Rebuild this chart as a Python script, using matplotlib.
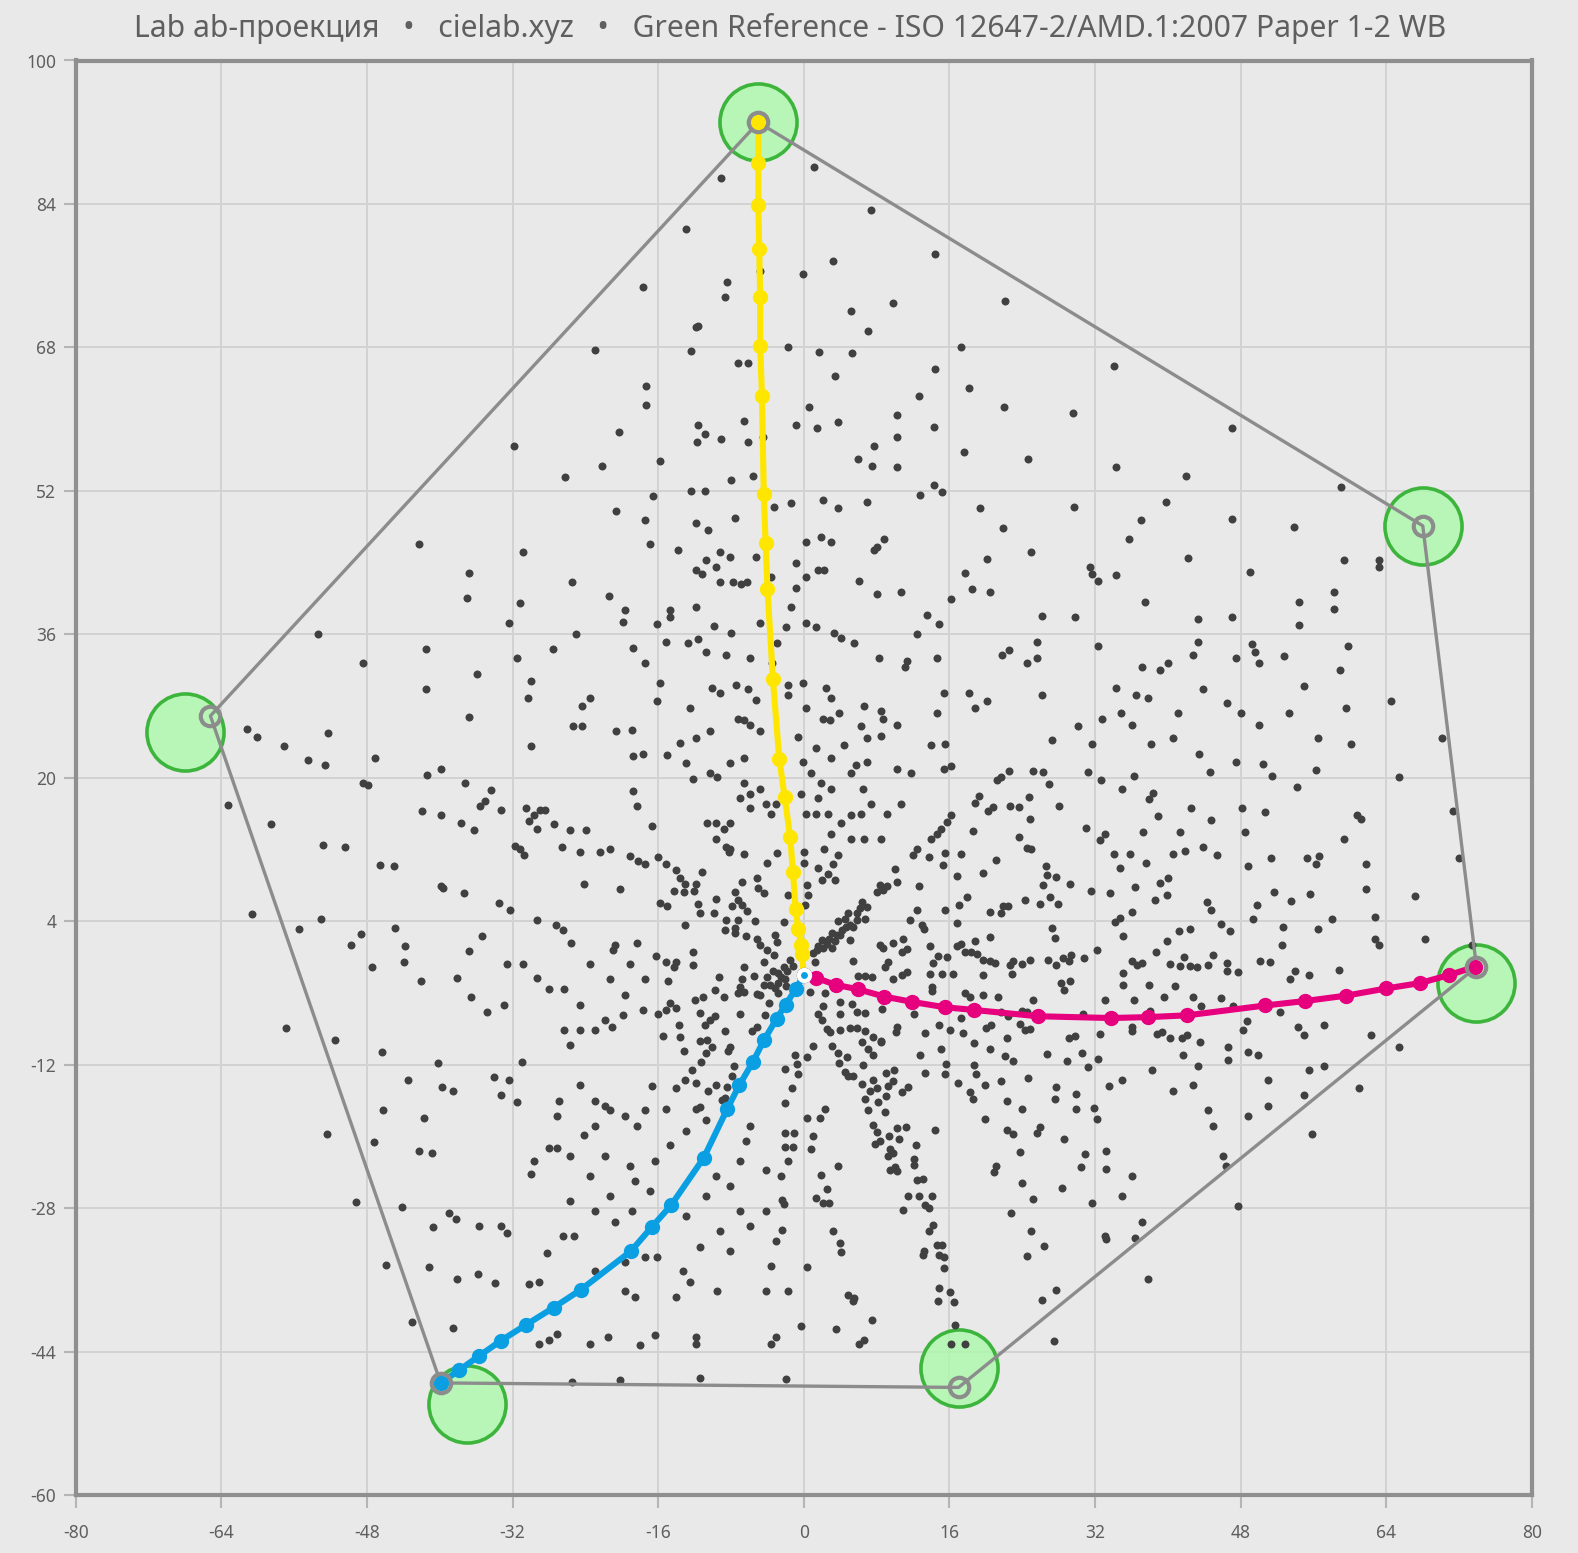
import matplotlib
matplotlib.use("Agg")
from matplotlib import pyplot as plt

title = "Lab ab-проекция   •   cielab.xyz   •   Green Reference - ISO 12647-2/AMD.1:2007 Paper 1-2 WB"
x_ticks = [-80, -64, -48, -32, -16, 0, 16, 32, 48, 64, 80]
y_ticks = [-60, -44, -28, -12, 4, 20, 36, 52, 68, 84, 100]

# gamut corners, measured and reference
hull_a = [-5.0, 68.0, 73.9, 17.0, -39.9, -65.2, -5.0]
hull_b = [93.1, 48.1, -1.1, -48.0, -47.5, 26.9, 93.1]
ref_a = [-5.0, 68.0, 73.9, 17.0, -37.0, -68.0]
ref_b = [93.1, 48.1, -2.9, -45.8, -49.9, 25.1]

yellow_a = [0, -0.2, -0.3, -0.6, -0.9, -1.2, -1.5, -2.1, -2.7, -3.4, -4.0, -4.2, -4.4, -4.6, -4.8, -4.8, -4.9, -5.0, -5.0, -5.0]
yellow_b = [-2, 0.3, 1.4, 3.1, 5.4, 9.5, 13.4, 17.8, 22.1, 31.0, 41.1, 46.2, 51.6, 62.6, 68.2, 73.6, 79.0, 83.9, 88.6, 93.1]
magenta_a = [0, 1.3, 3.5, 6.0, 8.8, 11.9, 15.5, 18.7, 25.7, 33.7, 37.8, 42.1, 50.7, 55.1, 59.6, 64.0, 67.7, 70.9, 73.7]
magenta_b = [-2, -2.3, -3.1, -3.6, -4.4, -5.0, -5.6, -5.9, -6.6, -6.8, -6.7, -6.5, -5.4, -4.9, -4.3, -3.5, -2.9, -2.0, -1.1]
cyan_a = [0, -0.9, -2.0, -3.0, -4.4, -5.6, -7.1, -8.4, -11.0, -14.6, -16.7, -19.0, -24.5, -27.5, -30.5, -33.3, -35.7, -37.9, -39.9]
cyan_b = [-2, -3.6, -5.3, -6.9, -9.3, -11.7, -14.3, -16.9, -22.4, -27.7, -30.1, -32.8, -37.1, -39.1, -41.0, -42.8, -44.5, -46.1, -47.5]

# patches, (a, b)
patches_top = [
    (-9.1,86.9),(1.1,88.1),(7.4,83.3),(-12.9,81.2),(-17.7,74.7),(14.4,78.4),(3.2,77.6),(-0.1,76.2),(-4.8,76.5),(-8.4,75.3),
    (-8.7,73.6),(22.1,73.2),(9.8,72.9),(5.2,72.1),(7.1,69.8),(-11.9,70.3),(-11.6,70.4),(-12.4,67.6),(1.7,67.5),(5.3,67.4),
    (17.3,68),(-1.7,68),(-7.2,66.3),(-6.1,66.3),(3.4,64.8),(34.1,65.9),(18.1,63.5),(-17.3,63.7),(-17.3,61.6),(0.6,61.4),
    (22,61.4),(14.4,65.6),(10.2,60.5),(12.7,62.6),(14.3,59.1),(29.6,60.7),(47,59),(-22.9,67.7),(-20.3,58.6),(-31.8,57),
    (-22.2,54.8),(-26.2,53.5),(-15.8,55.3),(-11.6,59.4),(-10.9,58.3),(-11.7,57.5),(-9.1,57.8),(-6.6,59.8),(-6.1,57.5),(-4.5,58),
    (-0.9,59.3),(1.4,59),(3.8,59.7),(7.7,57),(5.9,55.5),(7.5,54.8),(10.2,54.7),(10.2,58),(17.6,56.3),(24.6,55.5),
    (34.3,54.7),(-5.6,53.7),(-8,53.2),(-12.4,52),(-10.9,52),(-16.6,51.4),(-20.6,49.7),(-17.5,48.8),(-11.8,48.4),(-10.5,47.6),
    (-7.6,49),(-3.3,50.2),(-1.4,50.6),(2.1,51),(3.8,50.1),(6.9,50.8),(12.8,51.5),(14.3,52.6),(15.2,51.9),(19.3,50.1),
    (21.9,47.9),(20.1,44.4),(8.8,46.6),(42,53.7),(59,52.4),(47,48.9),(39.8,50.8),(53.9,48),(37,48.7),(35.7,46.6),(29.7,50.2),(25,45.2),
]
patches_upper = [
    (42.2,44.5),(49,42.9),(31.4,43.5),(31.7,42.7),(32.3,42),(34.3,42.6),(37.5,39.6),(54.4,39.6),(58.2,40.7),(59.3,44.3),
    (63.2,44.3),(63.2,43.5),(58.2,38.8),(54.4,37),(47,37.9),(43.3,37.7),(26.2,38),(29.8,37.9),(25.6,35.1),(32.3,34.7),
    (43.3,35.1),(42.8,33.7),(49.2,34.9),(49.6,34),(52.7,33.6),(47.5,33.4),(50,32.8),(40,32.8),(39.1,32),(37.2,32.3),
    (34.3,30),(36.5,29.2),(37.8,28.9),(24.5,32.8),(25.6,33.4),(21.8,33.7),(22.5,34.3),(14.6,33.4),(11.3,33),(11.1,32.3),
    (8.3,33.4),(12.4,36),(13.5,38.2),(14.9,37.1),(16.2,39.9),(20.4,40.7),(18.5,41.1),(17.7,42.8),(8,40.5),(10.7,40.7),
    (5.5,35),(4.1,35.6),(3.3,36.2),(1.3,36.8),(0.2,37.3),(-1.4,39),(6.1,41.9),(2.2,43.2),(1.5,43.2),(0.2,42.4),
    (-0.9,41.2),(8,45.7),(7.7,45.4),(3,46.3),(1.9,46.9),(0.2,46.3),(-0.9,44),(15.4,29.5),(18.1,29.5),(18.8,27.8),
    (20.1,28.6),(26.2,29.2),(14.6,27.2),(14,23.6),(15.5,23.8),(15.4,21),(16.2,21.3),(-9.2,41.8),(-7.8,41.8),(-6.9,41.6),
    (-6.3,41.8),(-10.8,44.3),(-9.7,43.5),(-11.9,43.2),(-11.2,42.7),(-8.1,44.6),(-9.2,45.2),(-5.3,44.6),(-13.8,45.4),(-16.9,46.1),
    (-3.6,42.4),(-3,35),(-2,36.8),(-4.8,37.3),(-15.2,35.1),(-11.9,39),(-14.7,38.7),
    (-42.3,46.1),(-36.8,42.8),(-37,40),(-30.9,45.2),(-31.2,39.5),(-32.4,37.3),(-31.5,33.4),(-53.4,36),(-48.4,32.8),(-41.5,34.4),
    (-41.5,29.9),(-35.9,31.6),(-36.8,26.8),(-30,30.8),(-30.3,28.9),(-30,23.5),(-27.6,34.4),(-25,36),(-25.5,41.8),(-21.4,40.3),
    (-19.7,38.7),(-19.9,37.4),(-16.1,37.1),(-14.7,37.9),(-18.8,34.5),(-17.5,32.8),(-15.8,30.6),(-16.1,28.6),(-23.5,28.9),(-24.4,28),
    (-25.4,25.8),(-24.4,25.8),(-20.6,25.2),(-18.9,25.3),(-17.7,22.7),(-18.8,22.4),(-15,22.5),(-13.6,23.9),(-11.9,24.4),(-10.3,25.2),
    (-12.5,27.8),(-10.1,30),(-9.2,29.5),(-12.7,35),(-11.6,35.5),(-9.9,36.9),(-8,36.2),(-10.8,34),(-8.6,33.7),(-5.9,33.4),
    (-7.5,30.4),(-6.1,29.9),(-5.3,28.7),(-7.2,26.5),(-6.6,26.4),(-5.9,25.9),(-4.8,25.2),(-3.5,32.8),(-1.7,30.4),(-0.1,30.6),
    (-1.7,29.2),(2.4,30),(3,28.9),(2.1,26.6),(2.9,26.4),(0.2,27.8),(3.9,27.2),(6.6,28),(8.5,27.4),(8.7,26.5),
    (10.2,25.9),(6.3,25.8),(4.4,23.6),(3,22.2),(1.3,23.3),(-0.6,24.5),(-0.1,21.8),(6.9,24.4),(8.5,24.7),
]
patches_west = [
    (-61.2,25.4),(-60.1,24.6),(-57.1,23.5),(-54.5,22),(-52.6,21.4),(-52.3,25),(-47.1,22.2),(-48.4,19.4),(-47.9,19.2),(-39.9,21),
    (-41.4,20.3),(-37.2,19.4),(-41.9,16.3),(-39.9,15.8),(-37.7,14.9),(-36.2,14.2),(-63.3,17),(-58.5,14.8),(-52.8,12.5),(-50.4,12.3),
    (-46.6,10.3),(-45,10.2),(-60.6,4.8),(-55.5,3.1),(-53,4.2),(-49.8,1.4),(-48.7,2.6),(-44.9,3.2),(-43.8,1.2),(-43.9,-0.5),
    (-47.4,-1.1),(-42.1,-2.7),(-56.9,-7.9),(-51.5,-9.3),(-46.4,-10.6),(-43.5,-13.7),(-40.2,-11.8),(-39.8,-14.5),(-38.6,-14.9),(-46.2,-17.1),
    (-41.7,-17.9),(-52.4,-19.7),(-47.2,-20.6),(-42.3,-21.6),(-40.9,-21.8),(-49.2,-27.3),(-44.2,-27.9),(-40.7,-30.1),(-39,-28.6),(-38.2,-29.2),
    (-45.9,-34.3),(-41.2,-34.6),(-38.1,-35.9),(-35.8,-35.4),(-33.9,-36.4),(-43.1,-40.7),(-38.5,-41.4),
    (-34.4,18.6),(-35,17.4),(-35.6,16.8),(-33.3,16.4),(-30.5,16.6),(-29.6,15.9),(-29,16.4),(-28.4,16.4),(-30.2,15.2),(-29.3,14.3),
    (-27.4,14.8),(-25.7,14.2),(-23.9,14.2),(-31.7,12.4),(-31.2,12),(-30.7,11.4),(-26.6,12.3),(-24.6,11.7),(-22.4,11.7),(-21.3,12),
    (-39.9,7.9),(-39.6,7.7),(-37.3,7.1),(-33.5,6),(-32.3,5.3),(-29.3,4.1),(-27.2,3.6),(-26.5,3),(-25.6,1.6),(-35.4,2.3),
    (-36.8,0.7),(-38.1,-2.3),(-36.6,-4.5),(-34.8,-6.1),(-32.6,-0.8),(-30.9,-0.8),(-29.3,-2.3),(-32.9,-5.3),(-28,-3.6),(-26.3,-3.6),
    (-24.6,-5.3),(-23.5,-0.8),(-20.8,1.4),(-21,0.8),(-18.3,1.6),(-19.1,-0.8),(-17.5,-2.5),(-19.7,-4.2),
    (-21.3,-2.5),(-21.9,-7),(-19.9,-6.5),(-17.7,-5.9),(-26.3,-8.1),
    (-24.6,-8.1),(-23,-8.1),(-21.1,-7.8),(-25.7,-9.8),(-31,-11.7),
    (-18.8,18.5),(-18.3,16.8),(-16.7,14.6),(-19.1,11.3),(-18.2,10.7),(-17.5,10.4),(-20.2,7.6),(-24.1,8.1),
]
patches_centre = [
    (-13,21.6),(-12.2,19.9),(-10.3,20.5),(-9.5,20.1),(-8.1,21.6),(-6.6,22.2),(-10.6,14.9),(-9.7,14.9),(-8.8,14.3),(-8.1,14.9),
    (-9.7,13.2),(-8.6,12.3),(-8.1,12.1),(-7,17.7),(-5.9,18.2),(-4.8,18.8),(-4.2,17.1),(-5.9,16.6),(-6.6,19.4),(-3.1,17.1),
    (-3.6,16),(-0.3,18.2),(0.8,20.5),(1.9,19.4),(3,18.8),(1.5,17.7),(0.2,16),(1.3,16),(2.7,16),(4.1,14.9),
    (5.2,15.8),(6.3,16),(3,13.7),(2.2,12.1),(5.2,13.2),(6.6,13.2),(8.5,13.2),(7.4,17.1),(6.5,18.8),(5.2,20.5),
    (5.7,21.4),(6.9,21.8),(10.2,21),(11.8,20.5),(10.7,17.1),(9.1,16),
    (12.4,12.1),(14,13.2),(14.6,13.7),(15.1,14.3),(15.7,15.1),(16.2,15.8),
]
patches_south = [
    (-5.9,-18.8),(-6.4,-20.5),(-7,-22.7),(-4.2,-23.8),(-2.5,-24.4),
    (-3.1,-31.7),(-3.6,-34.5),(-4.2,-37.3),
    (-0.3,-41.2),(-3.1,-42.4),(-3.6,-43.2),(6.6,-42.7),(6.1,-43.2),(-2,-47.1),(-11.4,-47),(-20.2,-47.2),(-25.5,-47.4),(-11.9,-42.4),
    (-11.9,-43.2),(-16.4,-42.1),(-18,-43.3),(-21.5,-42.4),(-23.5,-43.2),(-27.1,-42),(-28,-42.7),(-29.1,-43.2),
    (16.6,-41),(16.2,-43.2),(17.7,-43.2),(3.5,-41.5),(7.5,-40.5),
    (-21.9,-16.6),(-23,-16),(-24.6,-14.3),(-26.9,-16),(-27.1,-17.7),(-31.5,-16.2),(-33.3,-15.4),(-34,-13.4),(-32.4,-13.7),(-28,-21.3),
    (-27.1,-21.3),(-29.6,-22.7),(-30,-24.2),(-25.7,-22.2),(-24.1,-19.9),(-23,-18.8),(-21.3,-17.1),(-19.7,-17.7),(-18.3,-18.8),(-17.5,-17.1),
    (-15.2,-17),(-11.9,-17),(-10.8,-18.2),(-13,-19.4),(-14.7,-21),(-16.4,-22.7),(-18.6,-25),(-16.9,-26.1),(-19.1,-23.3),(-21.9,-22.2),
    (-23.5,-24.4),(-25.7,-27.2),(-23,-28.3),(-21.3,-26.7),(-20.8,-29.5),(-18.9,-28.3),(-25.2,-31.1),(-26.5,-31.1),(-28.2,-33),(-33.3,-30),
    (-32.6,-30.8),(-35.7,-30),(-30.2,-36.5),(-29.1,-36.2),(-23,-35),(-19.7,-34),(-17.5,-33.4),(-16.1,-33.4),(-13.3,-35),(-12.5,-36.2),
    (-14.1,-37.9),(-18.6,-37.9),(-19.7,-37.3),(-9.5,-37.3),(-13,-28.9),(-10.8,-26.7),(-9.7,-24.4),(-8.1,-25.5),(-7,-28.3),(-5.9,-30),
    (-9.2,-30.6),(-8.1,-32.8),(-11.4,-32.3),(-4.2,-28.3),
]
patches_east = [
    (27.3,24.2),(30.1,25.8),(31.7,23.8),(32.8,26.6),(34.8,27.2),(36.1,25.9),(38.1,23.8),(40.6,24.4),(43.4,22.7),(41.1,27.2),
    (43.9,29.9),(46.5,28.3),(48,27.2),(50,25.9),(50.5,21.5),(47.5,21.8),(53.3,27.2),(54.9,30.2),(58.9,32),(59.8,34.7),
    (56.5,24.4),(56.3,20.9),(60.1,23.8),(59.6,27.8),(64.5,28.6),(65.4,20.1),(70.1,24.4),(71.3,16.3),(72,11.1),(67.2,6.8),
    (68.2,2),(73.4,1.4),(60.8,15.8),(61.2,15.4),(59.3,13.2),(61.8,10.4),(61.8,7.6),(62.7,4.5),(62.7,2),(63.2,1.4),
    (56.3,10.4),(56.6,11.3),(55.3,11),(55.6,7),(58,4.2),(56.5,3.1),(55.5,-2),(58.8,-1.4),
    (55.8,-19.7),(54.9,-15.4),(61,-14.6),(57.1,-12.1),(55.5,-12.6),(65.4,-10),(62.3,-8.7),(57.1,-7.6),(54.9,-8.7),
    (48.8,-17.7),(51,-16.6),(46.1,-22.2),(46.4,-23.3),(47.7,-27.8),(44.4,-17.1),(45,-18.8),(40.6,-14.9),(42.8,-14.3),(43.3,-12.1),
    (41.7,-10.9),(38.3,-12.6),(35,-13.7),(51,-13.7),(49.9,-10.9),(48.8,-10.6),(46.6,-11.5),
    (35,-26.7),(36.1,-24.4),(37.2,-29.5),(36.4,-31.3),(33.1,-31.1),(37.8,-35.9),(27.5,-42.8),
]
# denser crop around the white point
patches_core = [
    (-16,11.2),(-15.1,10.4),(-14,9.7),(-13.6,8.8),(-13.1,8.2),(-11.8,8.2),(-12.1,7.4),(-13.2,7.3),(-14.3,7.4),(-11.2,9.5),
    (-15.8,6),(-15,5.7),(-11.6,5.9),(-11.4,4.9),(-9.9,4.9),(-9.6,6.5),(-7.6,7.3),(-7.2,6.4),(-6.8,5.8),(-6.3,5.1),
    (-7.9,5.7),(-6.8,8.4),(-5.2,8.8),(-5,7.7),(-4.4,7.1),(-8.5,4.1),(-7.2,4.1),(-7.6,3.2),(-8.7,3),(-7.6,2.7),
    (-6.4,2.4),(-5.4,4),(-13.1,3.6),(-5.2,2),(-4.8,1.4),(-4.1,0.8),(-3.3,0.2),(-3.2,2.5),(-3,1.7),(-4.4,-0.5),
    (-2.2,3.9),(-1.7,6.9),(0.3,8),(0.5,6.9),(0.1,5.8),(-4.1,10.5),(-8.2,11.7),(-6.6,11.5),(-3,11.6),(0,11.7),
    (0,10.5),(1.6,9.9),(3.2,10.4),(3.8,11.4),(2.7,9.3),(2,8.6),(3.4,8.6),
    (1.05,0.4),(1.4,0.8),(2,1.9),(2.5,1.5),(3.1,2.7),(3.8,4),(4.2,3),(4.9,4.9),(5.8,4.9),(6.4,6.1),
    (6.9,5.6),(6.7,4.3),(5.8,4.1),(5.1,3.6),(3.6,2.5),(3.1,1),(2.1,1),(1.2,-0.5),(5.1,1.9),
    (1.6,1.2),(2.8,2),(3.4,1.8),(4.5,4.2),(5.4,3.4),(6.2,5.5),(4,2.5),(4.6,3.3),
    (8.4,8),(8,7.3),(8.7,7.5),(9.1,7.9),(10,9.8),(10.2,8.4),(12.6,7.9),(12.4,5.3),(15.5,5.2),(11.7,4.1),
    (13,3.6),(13.2,3.1),(8.4,1.4),(8.7,1),(9.8,1.6),(10.9,2),(11.3,0.9),(10.8,0.6),(9.3,-0.5),(8.9,-1.1),
    (11.3,-1.7),(10.8,-2),(9.8,-2.5),(5.4,-0.4),(6,-2.1),(6.7,-2.1),(7.5,-2.2),(13.9,1.2),(14.2,-0.7),(14.7,0.1),
    (15.7,0),(13.9,-1.9),(15.2,-1.9),(16.4,-1.9),(14.1,-3.3),(14.1,-3.8),(16.8,1.2),(17.3,1.5),(17.7,0.6),(17.9,6.7),
    (16.8,9),(15.3,10.3),(12,11.4),(13.7,11.2),(15.5,11.6),(17.3,11.5),(17,5.8),(16.8,3.8),
    (-16.2,0.1),(-15.2,-0.6),(-14.3,-1.1),(-14,-0.5),(-12.2,0.6),(-12.2,-0.9),(-14.9,-2.7),(-9.3,-2.2),(-6.6,-1.1),(-6.8,-2.4),
    (-5.5,-2.1),(-4.4,-3.1),(-3.7,-3.1),(-2.8,-1.8),(-2.2,-1.1),(-1.5,-0.3),(-2.1,-2.4),(-2.8,-2.9),(-7,-3.3),(-6.6,-3.9),
    (-7.2,-4),(-5.2,-4.1),(-4.8,-4.2),(-2.8,-4),(-9.8,-3.7),(-8.8,-4.4),(-11.1,-4.4),(-12,-4.8),(-14.7,-5.1),(-15.1,-5.9),
    (-16,-6.3),(-14,-5.7),(-11.4,-6.2),(-7,-6.3),(-9.8,-6.6),(-10.3,-7),(-10.9,-7.6),(-13.7,-7.6),(-13.6,-8.9),(-15.5,-8.8),
    (-8.7,-8.2),(-5.7,-8.3),(-5.2,-7.8),(-4.3,-6.5),(-3.8,-5.1),(-11.4,-9.4),(-10.6,-9.2),(-10.1,-10),(-10.7,-10.7),(-8.1,-10),
    (-8.3,-10.5),(-13.2,-10.5),(-11.3,-11.7),(-12.3,-12.6),(-13.1,-13.7),(-11.8,-14),(-14,-14.6),(-16.7,-14.4),(-10.5,-14.9),(-9.6,-14.3),
    (-8.4,-14.5),(-7.7,-12.2),(-7.9,-13.3),(-8.7,-15.7),(-9,-15.9),(-11.4,-16.7),
    (-1.9,-1.5),(-2.5,-2.2),(-3.4,-1.5),(-2,-3.2),(-1.2,-1),(-3.2,-3.4),(-4,-2.2),
    (0.7,-3.9),(2.3,-4),(4,-5),(5.3,-5.2),(5.8,-6.1),(6.7,-6.2),(8.6,-5.8),(12.1,-6.4),(2.1,-5.5),(1.6,-6.3),
    (2,-7),(2.5,-8),(2.9,-8.4),(4,-6.3),(4,-8.1),(5.1,-7.9),(5.8,-7.9),(6.7,-8.3),(7.6,-8.9),(8.5,-9.4),
    (14.8,-7.6),(10.2,-7.8),(10.1,-8.4),(13.3,-8.5),(16.1,-8.1),(17.5,-8.5),(17.3,-6.8),(17.7,-4),(18.3,-4.4),
]
# east band crop
patches_band = [
    (21.2,19.7),(21.7,20.1),(22.5,20.8),(25.2,20.8),(26.3,20.6),(26.9,19.3),(31.2,20.6),(32.7,19.8),(36.3,20.2),(35,18.8),
    (44.6,20.6),(51.4,20.2),(54.2,19),(19.2,18),(18.8,17.2),(20.2,16.3),(20.8,16.7),(22.7,16.8),(23.6,16.7),(24.7,17.9),
    (28,16.9),(24.8,15.4),(18.6,14.1),(23.6,13.4),(31,14.4),(32.5,13.1),(33.1,13.7),(37.9,17.6),(38.4,18.3),(38.9,15.7),
    (42.5,16.6),(44.7,15.3),(48.1,16.6),(50.7,16.2),(48.5,14),(37.3,14),(41.3,13.9),(43.8,12.3),(45.4,11.4),(41.9,11.8),
    (40.6,11.5),(34.1,11.5),(35.8,11.5),(37.6,10.5),(34.7,9.9),(24.5,12.2),(25,12.1),(21.1,10.8),(19.7,9.4),(26.6,10.2),
    (26.7,9.2),(27.7,8.9),(29.2,8.2),(26.3,8),(31.5,7.4),(33.6,7.1),(36.4,7.8),(39.1,8.3),(40,8.8),(39.9,6.9),
    (38.6,6.4),(48.8,10.2),(51.3,11),(51.7,7.3),(53.5,6.3),(49.8,5.8),(49.3,4.2),(44.3,6.1),(44.7,5.2),(24.3,6.4),
    (27,6.7),(26,5.9),(27.9,5.9),(21.9,5.7),(22.4,5.7),(21.7,4.9),(20.5,5),(36.1,5),(34.7,4.4),(34.2,3.9),
    (45.8,3.7),(46.8,2.9),(52.6,3.4),(41.2,2.9),(42.4,3.1),(27.3,3.2),(27.6,2.1),(35.1,2.4),(39.9,1.8),(52.5,1.4),
    (20.5,2.2),(18.8,1.8),(32.2,0.8),(38.7,0.6),(41.8,0),(45,0.2),(50.1,-0.4),(51.2,-0.6),(18.4,0.6),(19,0.3),
    (19.7,-0.3),(20.5,-0.4),(21,-0.7),(23,-0.4),(22.7,-0.9),(24,-0.8),(24.9,-0.3),(26.8,-0.3),(27.7,-0.9),(28.5,-0.1),
    (29.1,-0.4),(29.4,0.2),(30.8,-0.1),(36,-0.4),(36.6,-0.9),(37.1,-0.7),(40.2,-0.8),(41.3,-1),(42.4,-1),(43.2,-1.1),
    (44.4,-0.9),(46.5,-0.7),(46.5,-1.5),(47.7,-1.7),(54,-1.6),(53.4,-2.5),(19.7,-2),(22.9,-1.9),(35.1,-1.8),(35.1,-3.1),
    (37.9,-3.1),(40.8,-3.2),(28.2,-2.9),(29.2,-2.7),(28.6,-3.7),(19.7,-4.2),(21.3,-4.4),(39.6,-4.4),(42.7,-4.5),(45.8,-4.6),
    (25.2,-4.8),(33.1,-4.8),(36.3,-4.8),(43.6,-5.5),(47.1,-5.5),(38,-6),(24,-6),(24.5,-6.1),(21.7,-6.1),(30.7,-6.3),
    (22.4,-6.6),(52.3,-6.1),(48.7,-7.1),(23.8,-7.5),(20,-7.9),(20.6,-7.6),(24.3,-8.1),(24.9,-8),(36,-7.8),(36,-8.2),
    (32.5,-8.6),(22.3,-9),(29.1,-9),(29.8,-8.8),(38.8,-8.6),(39.3,-8.4),(40.2,-9),(41.5,-9),(42.1,-8.7),(48.2,-8.1),
    (54.3,-7.8),(43.5,-9.5),(46.6,-10),
]
# south rays crop
patches_low = [
    (1,-9.9),(3.1,-9.9),(3.7,-10.7),(4.7,-11.2),(3.9,-11.8),(-1,-10.9),(0.4,-11.2),(-0.8,-11.9),(-2.1,-12.5),(-0.6,-13),
    (6.5,-12),(6.4,-9.5),(7.1,-10.2),(7.6,-10.9),(8.5,-9.5),(4.5,-12.8),(4.9,-13.3),(5.4,-13.3),(9,-12.9),(9.9,-12.6),
    (9.8,-13.8),(7.6,-13.7),(8,-14.6),(7.3,-14.9),(6.4,-14.2),(9.2,-14.4),(6.7,-15.8),(9,-15.5),(8.1,-16.2),(10.8,-15),
    (11.4,-14.5),(-1.3,-14.6),(-2.1,-16.3),(2.3,-16.9),(0.4,-17.9),(1.8,-18),(7,-17.1),(8.9,-17.3),(12.8,-10.9),(15.1,-10.3),
    (13.3,-12.9),(15.6,-11.9),(15.5,-13),(18.7,-9.6),(20.4,-10.3),(22.1,-11),(23,-11.6),(26.7,-10.8),(28.9,-11.6),(30.6,-10.7),
    (32.3,-11.4),(31.2,-12.3),(18.7,-12),(18.9,-13),(16.9,-14),(19.9,-14.3),(21.7,-13.8),(24.6,-13.5),(27.7,-14.5),(29.9,-15.3),
    (27.6,-15.8),(33.5,-14.4),(18.3,-15),(18.6,-15.8),(22.3,-16.1),(24,-16.9),(29.9,-17),(31.9,-16.8),(32.2,-18.1),(19.9,-18.1),
    (14.4,-19.3),(7.6,-18.7),(8,-19.5),(10.2,-19.1),(11.2,-18.9),(9.4,-20),(-2.1,-19.6),(-1.1,-19.6),(1,-20),(10.4,-20.3),
    (8.4,-20.5),(7.8,-20.8),(22.3,-19.3),(23,-19.7),(25.6,-19.6),(25.9,-19),(28.6,-20.3),(12.3,-21),(-2.1,-21.2),(-1.2,-21.2),
    (0.8,-21.4),(9.5,-21.4),(9.8,-21.9),(9.3,-22.2),(23.7,-21.7),(30.9,-22),(33.2,-21.6),(12.1,-22.5),(12.1,-23.2),(-1.7,-22.8),
    (3.7,-23.3),(21.1,-23.3),(20.9,-24),(30.5,-23.4),(33.2,-23.6),(10,-23.4),(9.5,-23.8),(10.2,-23.9),(1.9,-24.3),(12.4,-24.9),
    (13.1,-24.7),(24,-25.2),(28.4,-25.8),(2.5,-25.9),(-2.4,-27.1),(-2.2,-27.5),(1.3,-26.9),(2.1,-27.4),(2.8,-27.4),(11.4,-26.7),
    (12.7,-26.6),(14.1,-26.6),(25.2,-27),(31.7,-27.4),(13.3,-27.7),(13.7,-28),(10.9,-28.2),(22.8,-28.5),(14.2,-29.9),(13.8,-30.6),
    (-2.4,-30.4),(3.2,-30.6),(25,-30.6),(33.2,-31.4),(4,-31.9),(4.1,-32.9),(14.6,-32.1),(15.2,-32.1),(13.2,-32.8),(13.1,-33.2),
    (14.8,-33.2),(15.4,-33.4),(26.4,-32.2),(24.5,-33.3),(0.4,-34.6),(15.4,-34.7),(14.9,-36.9),(16.1,-37.4),(-1.7,-37.3),(4.8,-37.7),
    (5.5,-38),(5.4,-38.4),(14.7,-38.4),(16.5,-38.5),(27.7,-37.1),(26.2,-38.3),
]

dots = (patches_top + patches_upper + patches_west + patches_centre + patches_south
        + patches_east + patches_core + patches_band + patches_low)
dot_a = [p[0] for p in dots]
dot_b = [p[1] for p in dots]

plt.rcParams["axes.unicode_minus"] = False

W, H = 1578, 1553
bg = "#e9e9e9"
border = "#8f8f8f"
txt = "#5f5f5f"

fig = plt.figure(figsize=(W / 100, H / 100), dpi=100, facecolor=bg)
ax = fig.add_axes([75.7 / W, 1 - 1495 / H, (1532 - 75.7) / W, (1495 - 60.5) / H], facecolor=bg)
ax.set_xlim(-80, 80)
ax.set_ylim(-60, 100)
ax.set_xticks(x_ticks)
ax.set_yticks(y_ticks)
ax.grid(True, color="#d2d2d2", linewidth=1.4, zorder=0)
ax.set_axisbelow(True)
ax.tick_params(length=9, width=1.5, color="#b5b5b5", labelcolor=txt, labelsize=12.5)
ax.tick_params(axis="x", pad=12)
ax.tick_params(axis="y", pad=5)
for lab in ax.get_xticklabels() + ax.get_yticklabels():
    lab.set_family("Noto Sans")
for s in ax.spines.values():
    s.set_color(border)
    s.set_linewidth(3)

# reference circles under the dots
ax.plot(ref_a, ref_b, ls="none", marker="o", ms=55.5, mfc=(0.67, 0.98, 0.67, 0.8), mec="#3db53d", mew=2.6, zorder=1.5)

ax.scatter(dot_a, dot_b, s=33, color="#404040", linewidths=0, zorder=2)
ax.plot(hull_a, hull_b, color="#8c8c8c", lw=2.4, zorder=4)

ax.plot(yellow_a, yellow_b, color="#ffe600", lw=4.4, marker="o", ms=10, zorder=5)
ax.plot(magenta_a, magenta_b, color="#e6007e", lw=4.4, marker="o", ms=10, zorder=5)
ax.plot(cyan_a, cyan_b, color="#0a9fe3", lw=4.4, marker="o", ms=10, zorder=5)

# rings on measured corners
ax.plot(hull_a[:-1], hull_b[:-1], ls="none", marker="o", ms=14, mfc="none", mec="#8c8c8c", mew=3, zorder=6)
# paper white
ax.plot([0], [-2], marker="o", ms=8, mfc="#0a9fe3", mec="white", mew=3, zorder=7)

fig.text(790 / W, 1 - 29 / H, title, ha="center", va="center", fontsize=21.7, color=txt, family="Noto Sans")

fig.savefig("out.png", dpi=100, facecolor=bg)
